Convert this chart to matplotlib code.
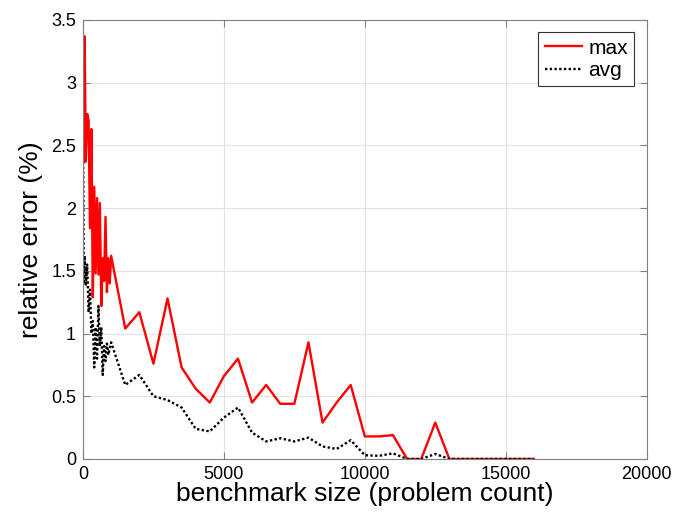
import matplotlib
matplotlib.use("Agg")
import matplotlib.pyplot as plt
from matplotlib.ticker import FormatStrFormatter, MultipleLocator

plt.rcParams['font.family'] = ['Liberation Sans', 'DejaVu Sans']

# benchmark sizes (problem count)
sizes = [10, 30, 60, 100, 150, 200, 250, 300, 350, 400, 450, 500, 550, 600,
         650, 700, 750, 800, 850, 900, 950, 1000,
         1500, 2000, 2500, 3000, 3500, 4000, 4500, 5000, 5500, 6000, 6500,
         7000, 7500, 8000, 8500, 9000, 9500, 10000, 10500, 11000, 11500,
         12000, 12500, 13000, 13500, 14000, 14500, 15000, 15500, 16000]

# relative error (%)
err_max = [2.97, 2.36, 3.37, 2.37, 2.75, 2.70, 1.84, 2.63, 1.29, 2.17, 1.48,
           2.08, 1.47, 2.04, 1.22, 1.60, 1.42, 1.93, 1.33, 1.60, 1.40, 1.62,
           1.04, 1.17, 0.76, 1.28, 0.73, 0.56, 0.45, 0.66, 0.80, 0.45, 0.59,
           0.44, 0.44, 0.93, 0.29, 0.45, 0.59, 0.18, 0.18, 0.19, 0.0,
           0.0, 0.29, 0.0, 0.0, 0.0, 0.0, 0.0, 0.0, 0.0]
err_avg = [2.33, 1.40, 1.62, 1.38, 1.55, 1.17, 1.35, 1.00, 1.10, 0.73, 1.05,
           0.80, 1.22, 0.90, 1.05, 0.67, 0.90, 0.78, 0.92, 0.83, 0.88, 0.93,
           0.59, 0.67, 0.50, 0.47, 0.41, 0.24, 0.22, 0.33, 0.41, 0.21, 0.14,
           0.165, 0.14, 0.17, 0.10, 0.08, 0.15, 0.03, 0.025, 0.045, 0.0,
           0.0, 0.04, 0.0, 0.0, 0.0, 0.0, 0.0, 0.0, 0.0]

fig = plt.figure(figsize=(6.8, 5.23), dpi=100)
ax = fig.add_axes([0.122, 0.1224, 0.829, 0.8394])

ax.plot(sizes, err_max, color='#ff0000', lw=1.7, label='max')
ax.plot(sizes, err_avg, color='black', lw=1.7, ls=(0, (1, 1)), label='avg')

ax.set_xlim(0, 20000)
ax.set_ylim(0, 3.5)
ax.xaxis.set_major_locator(MultipleLocator(5000))
ax.yaxis.set_major_locator(MultipleLocator(0.5))
ax.yaxis.set_major_formatter(FormatStrFormatter('%g'))

ax.grid(True, color='#e3e3e3', lw=0.8)
ax.set_axisbelow(True)
for s in ax.spines.values():
    s.set_color('#808080')
    s.set_linewidth(0.8)
ax.tick_params(direction='in', top=True, right=True, length=5,
               color='#808080', labelsize=13, pad=5)

ax.set_xlabel('benchmark size (problem count)', fontsize=19, labelpad=-1)
ax.set_ylabel('relative error (%)', fontsize=19, labelpad=6)

leg = ax.legend(loc='upper right', fontsize=15, fancybox=False, framealpha=1,
                handlelength=1.8, handletextpad=0.3, borderpad=0.3,
                labelspacing=0.15, borderaxespad=0.6)
leg.get_frame().set_edgecolor('#333333')
leg.get_frame().set_linewidth(0.8)

fig.savefig('out.png', dpi=100)
